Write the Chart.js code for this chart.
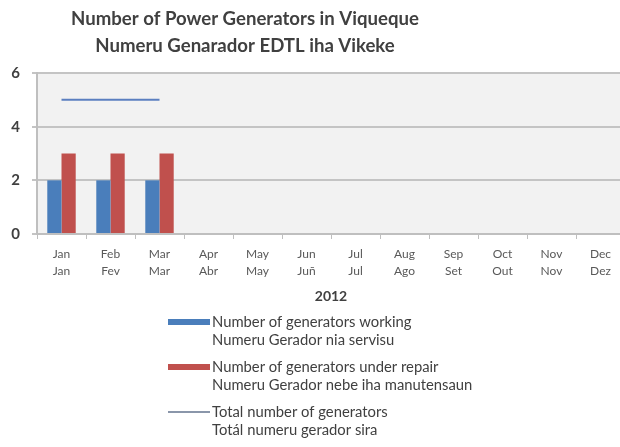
<!DOCTYPE html>
<html>
<head>
<meta charset="utf-8">
<script src="https://cdn.jsdelivr.net/npm/chart.js@4"></script>
<style>
    html, body { margin: 0; padding: 0; background: #fff; overflow: hidden; }
    #wrap { width: 626px; height: 447px; }
</style>
</head>
<body>
<div id="wrap"><canvas id="genChart" width="626" height="447"></canvas></div>
<script>
// Datos del gráfico
const months = [
    ['Jan', 'Jan'], ['Feb', 'Fev'], ['Mar', 'Mar'], ['Apr', 'Abr'],
    ['May', 'May'], ['Jun', 'Juñ'], ['Jul', 'Jul'], ['Aug', 'Ago'],
    ['Sep', 'Set'], ['Oct', 'Out'], ['Nov', 'Nov'], ['Dec', 'Dez']
];
const working = [2, 2, 2, null, null, null, null, null, null, null, null, null];
const repair = [3, 3, 3, null, null, null, null, null, null, null, null, null];
const total = [5, 5, 5, null, null, null, null, null, null, null, null, null];
const yTicks = [0, 2, 4, 6];
const titleLines = ['Number of Power Generators in Viqueque', 'Numeru Genarador EDTL iha Vikeke'];
const xTitle = '2012';
const labelWorking = ['Number of generators working', 'Numeru Gerador nia servisu'];
const labelRepair = ['Number of generators under repair', 'Numeru Gerador nebe iha manutensaun'];
const labelTotal = ['Total number of generators', 'Totál numeru gerador sira'];

const FONT = 'Lato, "Open Sans", sans-serif';
const TEXT = '#404040';

/**
 * Fondo gris del área de trazado
 */
const plotBackground = {
    id: 'plotBackground',
    beforeDraw(chart) {
        const { ctx, chartArea: a } = chart;
        ctx.save();
        ctx.fillStyle = '#f2f2f2';
        ctx.fillRect(a.left, a.top, a.right - a.left, a.bottom - a.top);
        ctx.restore();
    }
};

/**
 * Título y leyenda dibujados a mano (dos líneas cada uno)
 */
const titleAndLegend = {
    id: 'titleAndLegend',
    afterDraw(chart) {
        const ctx = chart.ctx;
        ctx.save();
        ctx.fillStyle = TEXT;
        ctx.textAlign = 'center';
        ctx.textBaseline = 'middle';
        ctx.font = `bold 18.6px ${FONT}`;
        ctx.fillText(titleLines[0], 245, 19);
        ctx.fillText(titleLines[1], 245, 46);

        ctx.textAlign = 'left';
        ctx.font = `14.8px ${FONT}`;
        const rows = [322, 367, 412];
        chart.data.datasets.forEach((ds, i) => {
            const y = rows[i];
            if (ds.type === 'line') {
                ctx.fillStyle = '#8a96aa';
                ctx.fillRect(168, y - 1, 42, 2);
            } else {
                ctx.fillStyle = ds.backgroundColor;
                ctx.fillRect(168, y - 3, 42, 6);
            }
            ctx.fillStyle = TEXT;
            ctx.fillText(ds.label[0], 212, y);
            ctx.fillText(ds.label[1], 212, y + 18);
        });
        ctx.restore();
    }
};

new Chart(document.getElementById('genChart'), {
    type: 'bar',
    data: {
        labels: months,
        datasets: [
            {
                label: labelWorking,
                data: working,
                backgroundColor: '#4a7ebb',
                categoryPercentage: 0.58,
                barPercentage: 1.0,
                order: 2
            },
            {
                label: labelRepair,
                data: repair,
                backgroundColor: '#c0504d',
                categoryPercentage: 0.58,
                barPercentage: 1.0,
                order: 2
            },
            {
                type: 'line',
                label: labelTotal,
                data: total,
                borderColor: '#5b7fc0',
                borderWidth: 2,
                pointRadius: 0,
                spanGaps: false,
                order: 1
            }
        ]
    },
    options: {
        responsive: false,
        animation: false,
        layout: { padding: { top: 73, right: 1, bottom: 142, left: 0 } },
        plugins: {
            legend: { display: false },
            title: { display: false },
            tooltip: { enabled: false }
        },
        scales: {
            x: {
                offset: true,
                grid: {
                    offset: true,
                    drawOnChartArea: false,
                    color: '#bfbfbf',
                    tickLength: 5
                },
                border: { color: '#bfbfbf', width: 2 },
                ticks: {
                    color: '#595959',
                    font: { family: FONT, size: 12, lineHeight: 1.45 },
                    padding: 6,
                    maxRotation: 0,
                    autoSkip: false
                },
                title: {
                    display: true,
                    text: xTitle,
                    color: TEXT,
                    font: { family: FONT, size: 14, weight: 'bold', lineHeight: 1.2 },
                    padding: { top: 0, bottom: 0 }
                },
                afterFit(scale) { scale.height = 71; }
            },
            y: {
                min: 0,
                max: 6,
                afterBuildTicks(scale) {
                    scale.ticks = yTicks.map(v => ({ value: v }));
                },
                grid: { color: '#c4c4c4', lineWidth: 2, tickLength: 5 },
                border: { color: '#bfbfbf', width: 2 },
                ticks: {
                    color: TEXT,
                    font: { family: FONT, size: 15, weight: 'bold' },
                    padding: 12
                },
                afterFit(scale) { scale.width = 37; }
            }
        }
    },
    plugins: [plotBackground, titleAndLegend]
});
</script>
</body>
</html>
